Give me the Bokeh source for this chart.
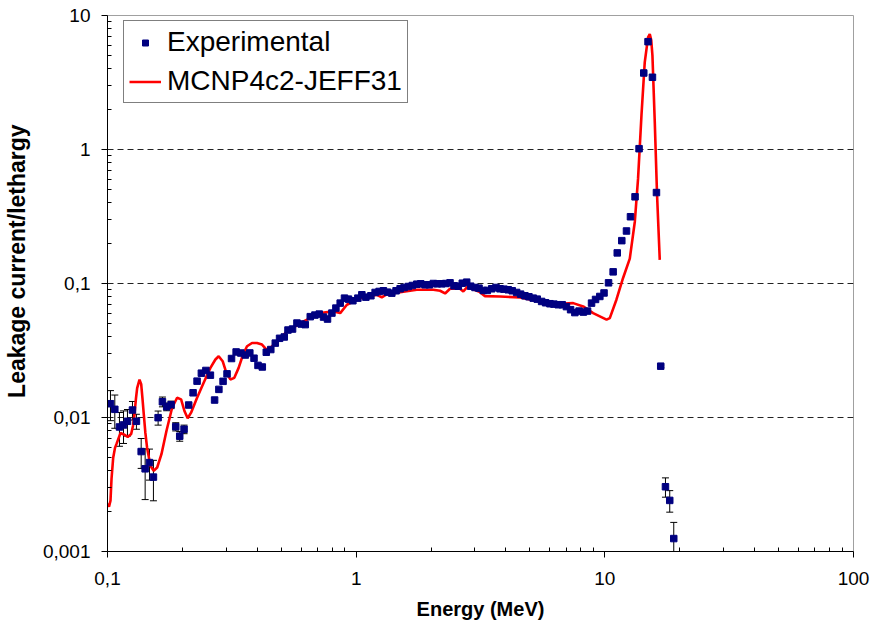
from bokeh.plotting import figure
from bokeh.models import (Range1d, FixedTicker, CustomJSTickFormatter, Whisker, TeeHead,
                          Legend, LegendItem, ColumnDataSource)
from bokeh.embed import file_html
from bokeh.resources import INLINE

# ---------------- data ----------------
energy_exp = [0.1028, 0.1070, 0.1117, 0.1160, 0.1203, 0.1260, 0.1307, 0.1366, 0.1417, 0.1475,
              0.1530, 0.1598, 0.1663, 0.1730, 0.1802, 0.1881, 0.1952, 0.2032, 0.2121, 0.2209,
              0.2292, 0.2385, 0.2487, 0.2593, 0.2696, 0.2805, 0.2916, 0.3025, 0.3153, 0.3291,
              0.3437, 0.3583, 0.3735, 0.3883, 0.4029, 0.4193, 0.4351, 0.4536, 0.4729, 0.4920,
              0.5138, 0.5318, 0.5549, 0.5779, 0.6014, 0.6241, 0.6537, 0.6826, 0.7104, 0.7391,
              0.7669, 0.7988, 0.8289, 0.8625, 0.8975, 0.9313, 0.9699, 1.0158, 1.054, 1.094,
              1.146, 1.192, 1.237, 1.287, 1.336, 1.391, 1.447, 1.502, 1.559, 1.622,
              1.683, 1.753, 1.819, 1.893, 1.970, 2.044, 2.121, 2.209, 2.292, 2.385,
              2.475, 2.575, 2.672, 2.783, 2.887, 3.005, 3.119, 3.245, 3.368, 3.508,
              3.650, 3.788, 3.930, 4.089, 4.243, 4.419, 4.585, 4.771, 4.951, 5.152,
              5.347, 5.569, 5.779, 6.014, 6.241, 6.494, 6.739, 7.006, 7.283, 7.577,
              7.878, 8.198, 8.522, 8.843, 9.177, 9.548, 9.926, 10.35, 10.80, 11.22,
              11.70, 12.22, 12.68, 13.23, 13.73, 14.34, 14.92, 15.54, 16.13, 16.78,
              17.53, 18.24, 18.93]

flux_exp = [0.01267, 0.01151, 0.00850, 0.00880, 0.00937, 0.01137, 0.00937, 0.00557, 0.00414, 0.00461,
            0.00359, 0.00997, 0.01311, 0.01203, 0.01245, 0.00854, 0.00725, 0.00817, 0.01239, 0.01529,
            0.01868, 0.02142, 0.02244, 0.0207, 0.0135, 0.01621, 0.01862, 0.02117, 0.02755, 0.03085,
            0.03027, 0.02926, 0.03033, 0.0277, 0.02448, 0.02382, 0.03069, 0.03215, 0.0359, 0.039,
            0.03988, 0.04496, 0.04573, 0.05069, 0.04983, 0.04932, 0.05656, 0.05813, 0.05913, 0.05617,
            0.05428, 0.06016, 0.06554, 0.07138, 0.07774, 0.07643, 0.07435, 0.07774, 0.08241, 0.07908,
            0.08101, 0.08573, 0.08721, 0.08826, 0.08617, 0.08471, 0.08826, 0.09133, 0.0934, 0.095,
            0.09663, 0.09881, 0.0995, 0.0978, 0.0978, 0.1, 0.0995, 0.0995, 0.1, 0.1012,
            0.09613, 0.09548, 0.1005, 0.1023, 0.09548, 0.0934, 0.09228, 0.08872, 0.08872, 0.09133,
            0.0934, 0.09133, 0.0907, 0.08978, 0.08826, 0.08573, 0.08326, 0.08101, 0.07963, 0.07774,
            0.07643, 0.07347, 0.07185, 0.07064, 0.07016, 0.06943, 0.06943, 0.06722, 0.06375, 0.06067,
            0.06226, 0.06119, 0.06226, 0.07138, 0.07603, 0.08003, 0.085, 0.1012, 0.1222, 0.1692,
            0.2088, 0.2465, 0.3149, 0.4436, 1.014, 3.724, 6.376, 3.459, 0.4772, 0.02415,
            0.003043, 0.002406, 0.001249]

# error bars (absolute) for the points that show visible bars
err_index = [0, 1, 2, 3, 4, 5, 6, 7, 8, 9, 10, 11, 12, 13, 14, 15, 16, 17, 129, 130, 131, 132]
err_value = [0.0032, 0.0032, 0.0024, 0.0024, 0.0021, 0.0018, 0.0012, 0.0014, 0.0017, 0.0012,
             0.0012, 0.0012, 0.0011, 0.0008, 0.0008, 0.0006, 0.0006, 0.0006,
             0.0005, 0.0005, 0.00044, 0.0004]

energy_mc = [0.1, 0.1014, 0.1028, 0.1038, 0.1054, 0.1072, 0.1087, 0.1128, 0.1163, 0.1206,
             0.1245, 0.1266, 0.1284, 0.1302, 0.1316, 0.1345, 0.1366, 0.1382, 0.1399, 0.1420,
             0.1443, 0.1488, 0.1534, 0.1584, 0.1648, 0.1726, 0.1819, 0.1905, 0.1977, 0.2039,
             0.2101, 0.2168, 0.2292, 0.2436, 0.2593, 0.2716, 0.2800, 0.2905, 0.3006, 0.3119,
             0.3236, 0.3368, 0.3508, 0.3640, 0.3812, 0.3992, 0.4181, 0.4379, 0.4515, 0.4729,
             0.5269, 0.6144, 0.7170, 0.8107, 0.8625, 0.9177, 1.038, 1.211, 1.268, 1.329,
             1.502, 1.753, 2.044, 2.175, 2.278, 2.385, 2.616, 2.697, 2.799, 3.148,
             3.297, 3.788, 4.556, 5.483, 6.597, 7.460, 8.183, 8.974, 10.16, 10.47,
             11.14, 11.84, 12.60, 13.20, 13.60, 14.04, 14.47, 14.92, 15.16, 15.37,
             15.54, 15.88, 16.22, 16.63]

flux_mc = [0.002275, 0.00216, 0.002394, 0.00349, 0.005, 0.005933, 0.006353, 0.007668, 0.007473, 0.007161,
           0.007538, 0.008647, 0.01062, 0.01396, 0.01657, 0.01916, 0.01775, 0.01396, 0.01062, 0.007668,
           0.005933, 0.004359, 0.004001, 0.004234, 0.005325, 0.007935, 0.01183, 0.01404, 0.01366, 0.01118,
           0.009865, 0.01086, 0.01404, 0.01815, 0.02346, 0.02709, 0.02866, 0.0263, 0.02153, 0.01923,
           0.01977, 0.02346, 0.02951, 0.034, 0.03597, 0.03597, 0.035, 0.03177, 0.03286, 0.03597,
           0.04396, 0.05219, 0.06016, 0.06193, 0.06016, 0.06943, 0.07774, 0.08241, 0.07868, 0.08326,
           0.08617, 0.08978, 0.08978, 0.08826, 0.08427, 0.09133, 0.09133, 0.08721, 0.09419, 0.08617,
           0.08045, 0.08003, 0.07868, 0.07347, 0.07064, 0.07138, 0.06745, 0.06016, 0.05372, 0.05521,
           0.07603, 0.11, 0.1535, 0.2891, 0.6036, 1.805, 4.474, 6.863, 7.262, 6.52,
           5.016, 1.601, 0.4565, 0.15]

x_major = [0.1, 1, 10, 100]
y_major = [0.001, 0.01, 0.1, 1, 10]

FONT = "Liberation Sans"

# ---------------- figure ----------------
p = figure(width=878, height=629, frame_width=746, frame_height=536,
           x_axis_type="log", y_axis_type="log",
           x_range=Range1d(0.1, 100), y_range=Range1d(0.001, 10),
           output_backend="svg", toolbar_location=None,
           min_border_left=107, min_border_right=25, min_border_top=15, min_border_bottom=78)
p.background_fill_color = "white"
p.border_fill_color = "white"
p.outline_line_color = "#a0a0a0"
p.outline_line_width = 1

x_minor = [m * d for d in [0.1, 1, 10] for m in range(2, 10)]
y_minor = [m * d for d in [0.001, 0.01, 0.1, 1] for m in range(2, 10)]
p.xaxis.ticker = FixedTicker(ticks=x_major, minor_ticks=x_minor)
p.yaxis.ticker = FixedTicker(ticks=y_major, minor_ticks=y_minor)

fmt_code = """
const e = Math.round(Math.log10(tick));
if (e < 0) { return '0,' + '0'.repeat(-e - 1) + '1'; }
return '1' + '0'.repeat(e);
"""
p.xaxis.formatter = CustomJSTickFormatter(code=fmt_code)
p.yaxis.formatter = CustomJSTickFormatter(code=fmt_code)

for ax in (p.xaxis[0], p.yaxis[0]):
    ax.axis_line_color = "black"
    ax.axis_line_width = 1
    ax.major_tick_line_color = "black"
    ax.minor_tick_line_color = "black"
    ax.major_tick_out = 6
    ax.major_tick_in = 0
    ax.minor_tick_in = 4
    ax.minor_tick_out = 0
    ax.major_label_text_font = FONT
    ax.major_label_text_font_size = "19px"
    ax.major_label_text_color = "black"
    ax.axis_label_text_font = FONT
    ax.axis_label_text_font_style = "bold"
    ax.axis_label_text_color = "black"

p.xaxis.axis_label = "Energy (MeV)"
p.xaxis.axis_label_text_font_size = "20px"
p.xaxis.major_label_standoff = 14
p.xaxis.axis_label_standoff = 10

# leading no-break spaces lift the visible title a little above the frame centre
p.yaxis.axis_label = "\u00a0" * 7 + "Leakage current/lethargy"
p.yaxis.axis_label_text_font_size = "23px"
p.yaxis.major_label_standoff = 11
p.yaxis.axis_label_standoff = 10

p.xgrid.grid_line_color = None
p.ygrid.grid_line_color = "#222222"
p.ygrid.grid_line_dash = "6 4"
p.ygrid.grid_line_width = 1

# ---------------- error bars ----------------
err_src = ColumnDataSource(data=dict(
    x=[energy_exp[i] for i in err_index],
    upper=[flux_exp[i] + e for i, e in zip(err_index, err_value)],
    lower=[flux_exp[i] - e for i, e in zip(err_index, err_value)],
))
whisk = Whisker(base="x", upper="upper", lower="lower", source=err_src,
                line_color="black", line_width=1, level="underlay",
                upper_head=TeeHead(size=7, line_color="black", line_width=1),
                lower_head=TeeHead(size=7, line_color="black", line_width=1))
p.add_layout(whisk)

# ---------------- series ----------------
line_r = p.line(energy_mc, flux_mc, line_color="#ff0000", line_width=2.6)
pts_r = p.scatter(energy_exp, flux_exp, marker="square", size=6.5,
                  fill_color="#000080", line_color="#000080")

legend = Legend(items=[LegendItem(label="Experimental", renderers=[pts_r]),
                       LegendItem(label="MCNP4c2-JEFF31", renderers=[line_r])],
                location=(16, 448))
legend.label_text_font = FONT
legend.label_text_font_size = "28px"
legend.label_text_color = "black"
legend.border_line_color = "black"
legend.border_line_width = 1
legend.background_fill_color = "white"
legend.background_fill_alpha = 1
legend.glyph_width = 32
legend.glyph_height = 15
legend.label_height = 30
legend.label_standoff = 6
legend.spacing = 7
legend.padding = 5
legend.margin = 0
p.add_layout(legend)

open("out.html", "w").write(file_html(p, INLINE))
